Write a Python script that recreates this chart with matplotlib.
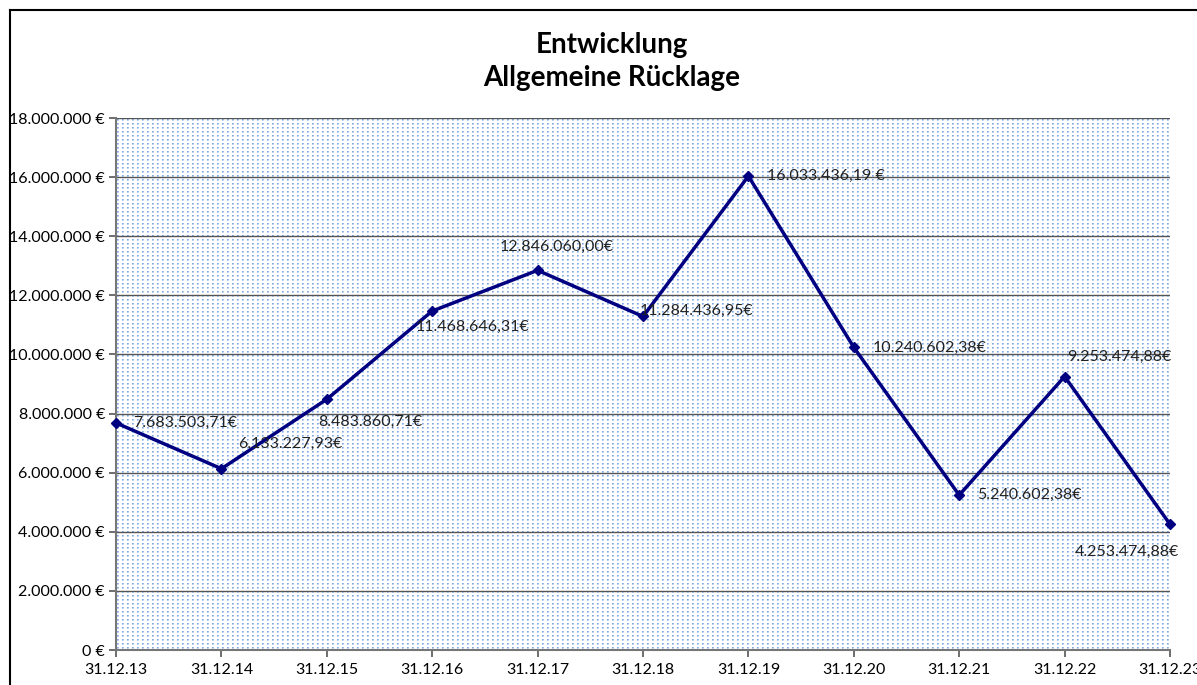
import matplotlib
matplotlib.use("Agg")
import matplotlib.pyplot as plt
import numpy as np
from matplotlib.lines import Line2D

categories = ["31.12.13", "31.12.14", "31.12.15", "31.12.16", "31.12.17", "31.12.18",
              "31.12.19", "31.12.20", "31.12.21", "31.12.22", "31.12.23"]
values = [7683503.71, 6133227.93, 8483860.71, 11468646.31, 12846060.00, 11284436.95,
          16033436.19, 10240602.38, 5240602.38, 9253474.88, 4253474.88]
labels = ["7.683.503,71€", "6.133.227,93€", "8.483.860,71€", "11.468.646,31€",
          "12.846.060,00€", "11.284.436,95€", "16.033.436,19 €", "10.240.602,38€",
          "5.240.602,38€", "9.253.474,88€", "4.253.474,88€"]
# label offsets in pixels (dx, dy) relative to point, left-aligned
offsets = [(17, 0), (17, 25), (-9, -23), (-17, -16), (-38, 23), (-3, 6),
           (19, 0), (19, -1), (18, 0), (3, 20), (-95, -28)]
yticks = np.arange(0, 18000001, 2000000)
ytick_labels = ["0 €", "2.000.000 €", "4.000.000 €", "6.000.000 €", "8.000.000 €",
                "10.000.000 €", "12.000.000 €", "14.000.000 €", "16.000.000 €", "18.000.000 €"]

plt.rcParams['font.family'] = ['Lato', 'DejaVu Sans']

W, H = 1197, 685
fig = plt.figure(figsize=(W / 100, H / 100), dpi=100)
fig.patch.set_facecolor("white")

# outer chart border
fig.add_artist(Line2D([10 / W, 10 / W], [0, 1 - 10 / H], color="black", lw=1.5, transform=fig.transFigure))
fig.add_artist(Line2D([10 / W, 1.0], [1 - 10 / H, 1 - 10 / H], color="black", lw=1.5, transform=fig.transFigure))

ax = fig.add_axes([116 / W, 35 / H, (1170 - 116) / W, (650 - 118) / H])
x = np.arange(len(categories))

# dotted background pattern
pw, ph = 1054, 532
pat = np.ones((ph, pw, 3))
pat[1::4, 1::5] = np.array([0.50, 0.66, 0.89])
pat[1::4, 2::5] = np.array([0.62, 0.75, 0.92])
pat[2::4, 1::5] = np.array([0.70, 0.80, 0.94])
pat[2::4, 2::5] = np.array([0.80, 0.87, 0.96])
ax.imshow(pat, extent=[0, len(categories) - 1, 0, 18000000], aspect="auto",
          interpolation="none", zorder=0)

ax.set_xlim(0, len(categories) - 1)
ax.set_ylim(0, 18000000)
ax.set_yticks(yticks)
ax.set_yticklabels(ytick_labels)
ax.set_xticks(x)
ax.set_xticklabels(categories)
for yv in yticks[1:]:
    ax.axhline(yv, color="#555555", lw=1.0, zorder=1)

ax.plot(x, values, color="#000080", lw=2.5, marker="D", markersize=5, zorder=3, clip_on=False)

for xi, v, lab, (dx, dy) in zip(x, values, labels, offsets):
    ax.annotate(lab, (xi, v), xytext=(dx * 0.72, dy * 0.72), textcoords="offset points",
                ha="left", va="center", fontsize=11.5, color="#222222", zorder=4,
                annotation_clip=False)

for s in ["top", "right"]:
    ax.spines[s].set_visible(False)
ax.spines["left"].set_color("#777777")
ax.spines["bottom"].set_color("#777777")
ax.spines["left"].set_linewidth(1.5)
ax.spines["bottom"].set_linewidth(1.5)
ax.tick_params(axis="both", colors="#555555", labelcolor="black", labelsize=11.5, length=5, width=1.2)
ax.tick_params(axis="x", pad=4)
ax.tick_params(axis="y", pad=3)

fig.text(612 / W, 1 - 45 / H, "Entwicklung", ha="center", va="center", fontsize=20, fontweight="bold")
fig.text(612 / W, 1 - 78 / H, "Allgemeine Rücklage", ha="center", va="center", fontsize=20, fontweight="bold")

fig.savefig("out.png", dpi=100)
